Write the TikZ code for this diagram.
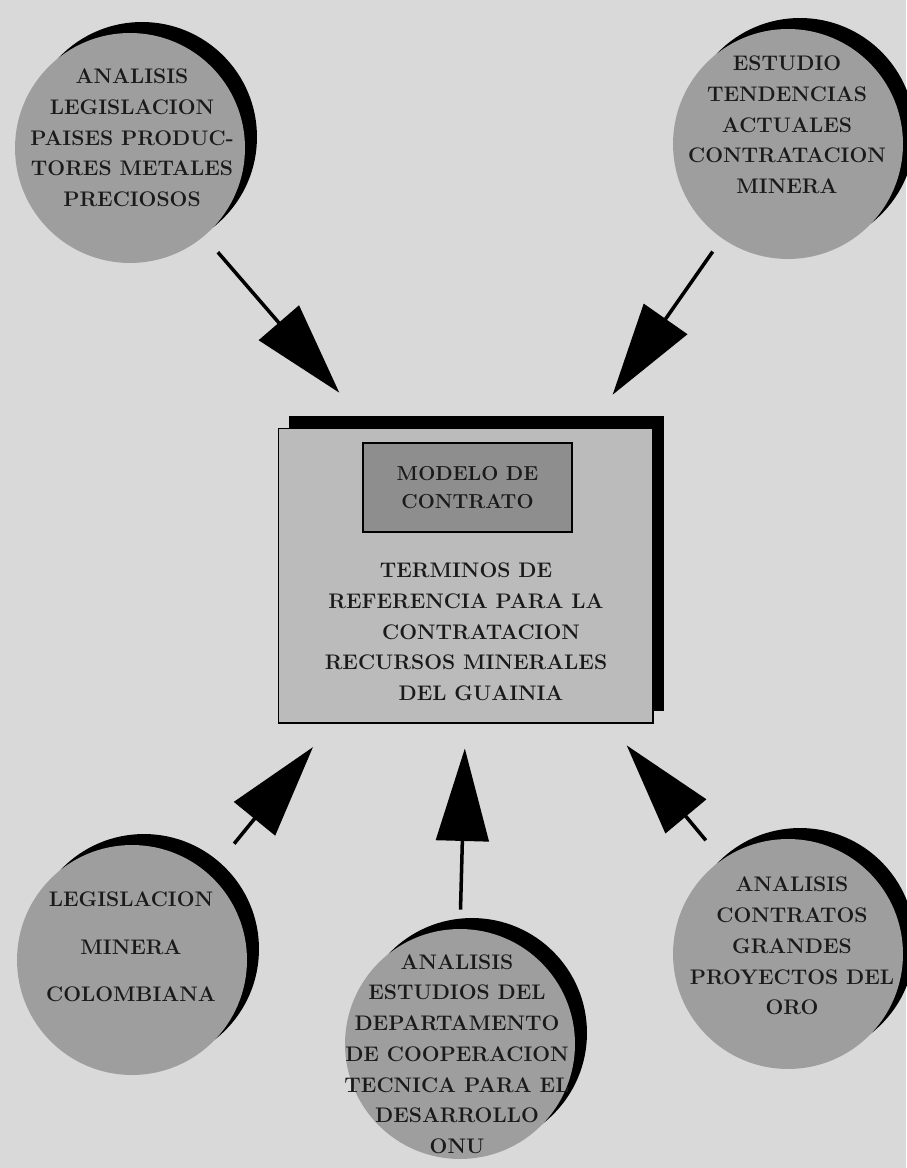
\documentclass[tikz,border=0pt]{standalone}
\usetikzlibrary{arrows.meta,shadows}
\definecolor{paper}{HTML}{D9D9D9}
\definecolor{disc}{HTML}{9E9E9E}
\definecolor{sheet}{HTML}{BBBBBB}
\definecolor{label}{HTML}{8E8E8E}
\definecolor{ink}{HTML}{1A1A1A}
\tikzstyle{topic}=[circle, inner sep=0pt, minimum size=4.6cm, fill=disc,
  drop shadow={shadow xshift=0.24cm, shadow yshift=0.22cm, fill=black, opacity=1}]
\tikzstyle{words}=[align=center, text=ink, font=\bfseries\fontsize{12}{17.5}\selectfont]
\tikzstyle{feed}=[line width=2pt, -{Triangle[length=1.85cm,width=1.05cm]}]
\newcommand{\topic}{\node[topic]}

\begin{document}
\begin{tikzpicture}[x=0.02cm,y=-0.02cm]
\useasboundingbox (0,0) rectangle (906,1168);
\fill[paper] (0,0) rectangle (906,1168);
%%central sheet
\node[draw, line width=0.6pt, fill=sheet, minimum width=7.5cm, minimum height=5.9cm,
  drop shadow={shadow xshift=0.22cm, shadow yshift=0.24cm, fill=black, opacity=1}]
  (contract) at (465.5,575.5) {};
\node[draw, line width=1.2pt, fill=label, minimum width=4.18cm, minimum height=1.78cm,
  words, font=\bfseries\fontsize{11.5}{15.5}\selectfont] (model) at (467.5,487.5)
  {MODELO DE\\CONTRATO};
\node[words] (terms) at (466,632) {TERMINOS DE\\REFERENCIA PARA LA\\
  \hspace*{0.6cm}CONTRATACION\\RECURSOS MINERALES\\\hspace*{0.6cm}DEL GUAINIA};
%%circles
\topic (legis) at (130,148) {};
\topic (tendencias) at (788,144) {};
\topic (colombia) at (132,960) {};
\topic (onu) at (460,1044) {};
\topic (oro) at (788,954) {};
\node[words] (legis-t) at (132,138) {ANALISIS\\LEGISLACION\\PAISES PRODUC-\\TORES METALES\\PRECIOSOS};
\node[words] (tendencias-t) at (787,125) {ESTUDIO\\TENDENCIAS\\ACTUALES\\CONTRATACION\\MINERA};
\node[words, font=\bfseries\fontsize{12}{27}\selectfont] (colombia-t) at (131,947)
  {LEGISLACION\\MINERA\\COLOMBIANA};
\node[words] (onu-t) at (457,1054) {ANALISIS\\ESTUDIOS DEL\\DEPARTAMENTO\\DE COOPERACION\\
  TECNICA PARA EL\\DESARROLLO\\ONU};
\node[words] (oro-t) at (792,946) {ANALISIS\\CONTRATOS\\GRANDES\\PROYECTOS DEL\\ORO};
%%arrows into the sheet
\foreach \src/\a/\b/\ga/\gb in {legis/-50/123/0.42cm/0.92cm, tendencias/-125/50/0.32cm/0.8cm,
  colombia/48/228/0.79cm/0.61cm, onu/90/-90/0.38cm/0.5cm, oro/125/-46/0.5cm/0.57cm}{
  \draw[feed, shorten <=\ga, shorten >=\gb] (\src.\a) -- (contract.\b);}
\end{tikzpicture}
\end{document}
